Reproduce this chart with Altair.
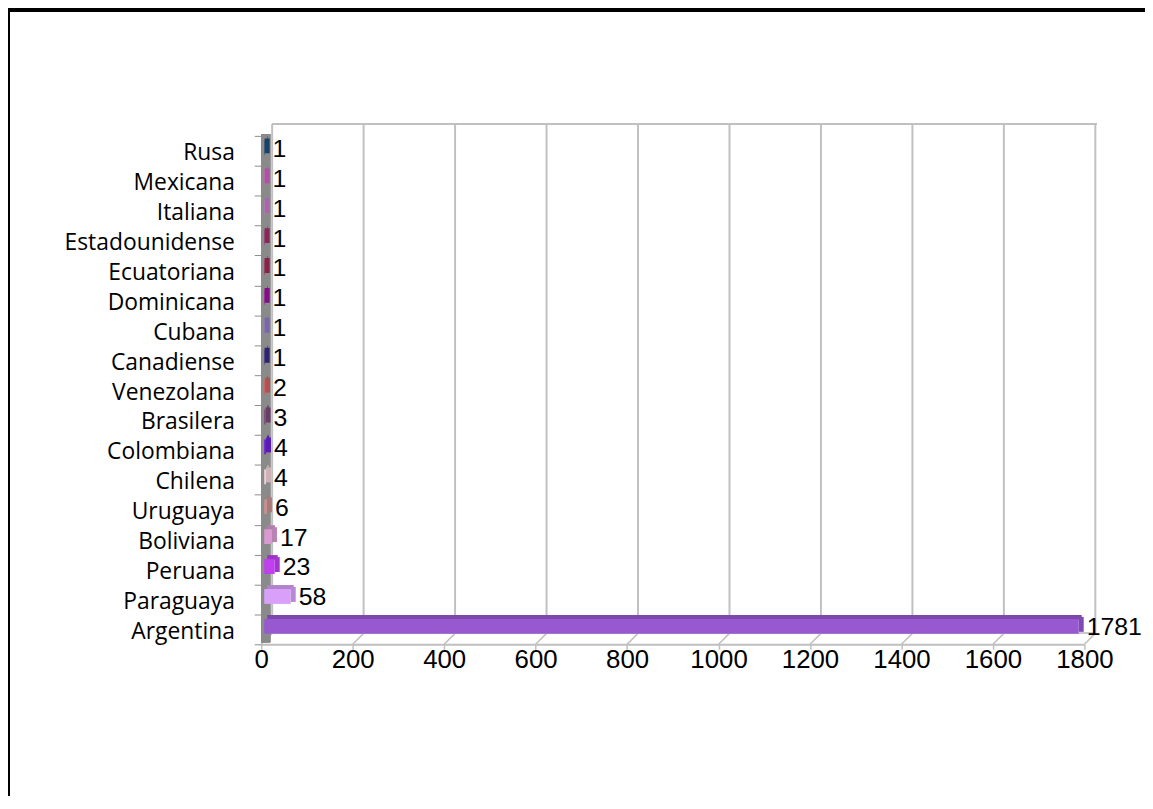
import altair as alt
import pandas as pd

categories = ["Rusa", "Mexicana", "Italiana", "Estadounidense", "Ecuatoriana",
              "Dominicana", "Cubana", "Canadiense", "Venezolana", "Brasilera",
              "Colombiana", "Chilena", "Uruguaya", "Boliviana", "Peruana",
              "Paraguaya", "Argentina"]
values = [1, 1, 1, 1, 1, 1, 1, 1, 2, 3, 4, 4, 6, 17, 23, 58, 1781]
colors = ["#1f4e79", "#d060c0", "#c878c8", "#a0306a", "#a02858",
          "#9a10a0", "#9078c8", "#3a2a80", "#d06060", "#7a4a78",
          "#6a20d8", "#f0d0d8", "#c89090", "#d89ad0", "#c040f0",
          "#d8a0f8", "#9858d0"]
ticks = [0, 200, 400, 600, 800, 1000, 1200, 1400, 1600, 1800]

W, H = 829, 512
DEPTH = 11

df = pd.DataFrame({"cat": categories, "val": values})
tdf = pd.DataFrame({"t": ticks})

xscale = alt.Scale(domain=[0, 1800], nice=False, zero=True)
yscale = alt.Scale(domain=categories, paddingInner=0, paddingOuter=0)
cscale = alt.Scale(domain=categories, range=colors)

# back wall grid lines
grid = alt.Chart(tdf).mark_rule(color="#c0c0c0", strokeWidth=2, xOffset=DEPTH).encode(
    x=alt.X("t:Q", scale=xscale),
    y=alt.value(-DEPTH - 1), y2=alt.value(H - DEPTH))
# back wall top
walltop = alt.Chart(tdf).mark_rule(color="#c0c0c0", strokeWidth=2).encode(
    x=alt.value(DEPTH), x2=alt.value(W + DEPTH + 1), y=alt.value(-DEPTH - 1))
# floor back line
floorback = alt.Chart(tdf).mark_rule(color="#c8c8c8", strokeWidth=1.5).encode(
    x=alt.value(DEPTH), x2=alt.value(W + DEPTH), y=alt.value(H - DEPTH))
# floor diagonals
diag = alt.Chart(tdf).mark_rule(color="#c0c0c0", strokeWidth=1.5, x2Offset=DEPTH).encode(
    x=alt.X("t:Q", scale=xscale), x2="t:Q",
    y=alt.value(H), y2=alt.value(H - DEPTH))
# left wall
wall = alt.Chart(tdf).mark_rect(color="#8a8a8a").encode(
    x=alt.value(0), x2=alt.value(DEPTH - 2), y=alt.value(-2), y2=alt.value(H - 2))

base = alt.Chart(df)
ycat = alt.Y("cat:N", scale=yscale, sort=categories,
             axis=alt.Axis(title=None, domain=False, tickBand="extent", tickSize=7,
                           tickColor="#8c8c8c", labelFont="Open Sans", labelFontSize=23,
                           labelLimit=400, labelColor="#000000", labelPadding=20,
                           labelOffset=2))
xq = alt.X("val:Q", scale=xscale,
           axis=alt.Axis(title=None, values=ticks, grid=False, domainColor="#bfbfbf",
                         domainWidth=2, tickColor="#bfbfbf", tickSize=5, tickWidth=1.5,
                         labelFont="Liberation Sans", labelFontSize=26, format="d",
                         labelFlush=False, labelColor="#000000", labelPadding=-3))

front = base.mark_bar(height=15, yOffset=-3, xOffset=3).encode(
    y=ycat, x=xq, color=alt.Color("cat:N", scale=cscale, legend=None))
side = base.mark_bar(height=15, yOffset=-5, xOffset=3, x2Offset=8).encode(
    y=ycat, x=xq, x2="val:Q", color=alt.Color("cat:N", scale=cscale, legend=None))
side_shade = base.mark_bar(height=15, yOffset=-5, xOffset=3, x2Offset=8,
                           color="#000000", opacity=0.15).encode(
    y=ycat, x=xq, x2="val:Q")
topface_col = base.mark_bar(height=5, yOffset=-12, xOffset=6).encode(
    y=ycat, x=xq, color=alt.Color("cat:N", scale=cscale, legend=None))
topface = base.mark_bar(height=5, yOffset=-12, xOffset=6, color="#000000", opacity=0.18).encode(
    y=ycat, x=xq)

labels = base.mark_text(align="left", baseline="middle", dx=11, dy=-2,
                        font="Liberation Sans", fontSize=25, color="#000000").encode(
    y=ycat, x=xq, text="val:Q")

border_left = alt.Chart(tdf).mark_rule(color="#000000", strokeWidth=4).encode(
    x=alt.value(-255), y=alt.value(-130), y2=alt.value(700))
border_top = alt.Chart(tdf).mark_rule(color="#000000", strokeWidth=4).encode(
    x=alt.value(-257), x2=alt.value(900), y=alt.value(-127))

chart = alt.layer(
    grid, walltop, floorback, diag, wall, topface_col, topface, side, side_shade, front,
    labels, border_left, border_top
).properties(
    width=W, height=H,
    padding={"left": 255, "top": 126, "right": 61, "bottom": 150},
    autosize=alt.AutoSizeParams(type="none"),
    background="#ffffff"
).configure_view(stroke=None)

chart.save("out.html", embed_options={"renderer": "svg", "actions": False})
